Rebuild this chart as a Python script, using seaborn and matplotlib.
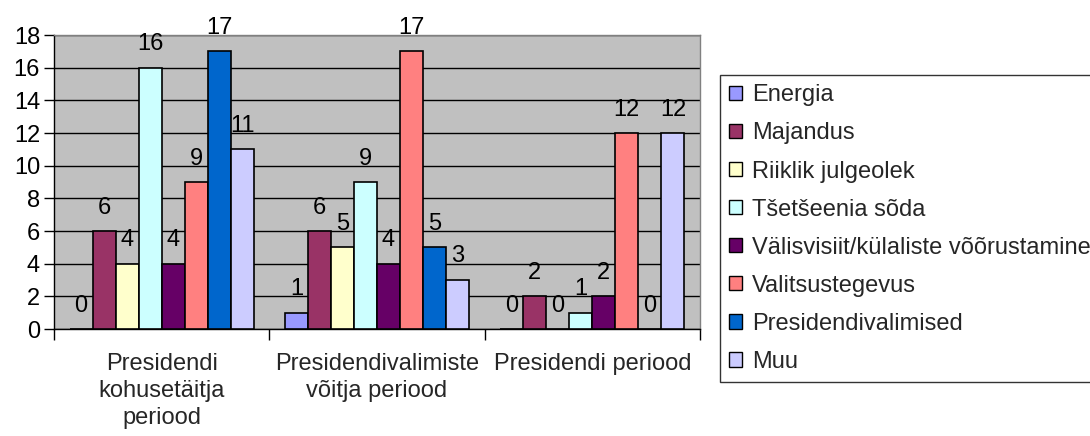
import matplotlib
matplotlib.use("Agg")
import matplotlib.pyplot as plt
from matplotlib.patches import Patch
import seaborn as sns
import pandas as pd

periods = ["Presidendi\nkohusetäitja\nperiood", "Presidendivalimiste\nvõitja periood", "Presidendi periood"]
topics = ["Energia", "Majandus", "Riiklik julgeolek", "Tšetšeenia sõda",
          "Välisvisiit/külaliste võõrustamine", "Valitsustegevus", "Presidendivalimised", "Muu"]
energia = [0, 1, 0]
majandus = [6, 6, 2]
riiklik = [4, 5, 0]
tsetseenia = [16, 9, 1]
valisvisiit = [4, 4, 2]
valitsus = [9, 17, 12]
presvalim = [17, 5, 0]
muu = [11, 3, 12]
colors = ["#9999FF", "#993366", "#FFFFCC", "#CCFFFF", "#660066", "#FF8080", "#0066CC", "#CCCCFF"]

series = [energia, majandus, riiklik, tsetseenia, valisvisiit, valitsus, presvalim, muu]
rows = []
for t, vals in zip(topics, series):
    for p, v in zip(periods, vals):
        rows.append({"period": p, "topic": t, "value": v})
df = pd.DataFrame(rows)

sns.set_style("white")
plt.rcParams["font.family"] = ["Liberation Sans", "DejaVu Sans"]

FS = 17
fig = plt.figure(figsize=(10.9, 4.36), dpi=100)
ax = fig.add_axes([54/1090, 1-329/436, (700-54)/1090, (329-35)/436])
ax.set_facecolor("#C0C0C0")

sns.barplot(data=df, x="period", y="value", hue="topic", order=periods, hue_order=topics,
            palette=colors, saturation=1, width=0.855, edgecolor="black", linewidth=1.2, gap=0,
            legend=False, ax=ax, zorder=3)

for c in ax.containers:
    ax.bar_label(c, fmt="%d", padding=9, fontsize=FS, color="black")

ax.set_xlim(-0.5, 2.5)
ax.set_ylim(0, 18)
ax.set_yticks(range(0, 19, 2))
ax.yaxis.grid(True, color="black", linewidth=1, zorder=0)
ax.set_axisbelow(True)
ax.tick_params(axis="y", labelsize=FS, length=7, width=1, direction="out", left=True, pad=3, colors="black")
ax.set_xticks([0, 1, 2])
ax.set_xticklabels(periods, fontsize=FS, linespacing=1.3)
ax.tick_params(axis="x", length=0, pad=17)
ax.set_xticks([-0.5, 0.5, 1.5, 2.5], minor=True)
ax.tick_params(axis="x", which="minor", length=8, width=1, bottom=True, direction="out", color="black")
ax.set_xlabel("")
ax.set_ylabel("")
for s in ["left", "bottom"]:
    ax.spines[s].set_color("black")
    ax.spines[s].set_linewidth(1)
for s in ["top", "right"]:
    ax.spines[s].set_color("#808080")
    ax.spines[s].set_linewidth(1)

handles = [Patch(facecolor=col, edgecolor="black", linewidth=1) for col in colors]
leg = fig.legend(handles, topics, loc="upper left", bbox_to_anchor=(720/1090, 1-75/436),
                 fontsize=FS, frameon=True, fancybox=False, edgecolor="black",
                 handlelength=0.55, handleheight=0.55, handletextpad=0.4,
                 labelspacing=0.68, borderpad=0.4, borderaxespad=0)
leg.get_frame().set_linewidth(1)

fig.savefig("out.png", dpi=100)
